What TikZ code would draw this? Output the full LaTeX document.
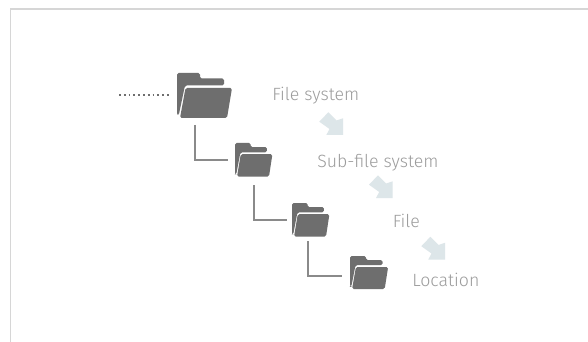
\documentclass[tikz,border=0pt]{standalone}
\usepackage{fontspec}
\setmainfont{Fira Sans Light}
\definecolor{foldergrey}{HTML}{6E6E6E}
\definecolor{linegrey}{HTML}{8A8A8A}
\definecolor{labelgrey}{HTML}{9C9C9C}
\definecolor{framegrey}{HTML}{D6D6D6}
\definecolor{arrowblue}{HTML}{DDE6E9}
\tikzset{
  framestyle/.style={draw=framegrey,line width=1.1pt},
  connector/.style={draw=linegrey,line width=0.8pt},
  dotline/.style={draw=foldergrey,line width=1.2pt,dash pattern=on 1.3pt off 2.3pt},
  label/.style={text=labelgrey,font=\fontsize{13.3}{15}\selectfont,inner sep=0pt,anchor=base west},
  folderback/.style={fill=foldergrey,rounded corners=1.2pt},
  folderfront/.style={fill=foldergrey,rounded corners=1.2pt},
  pics/folder/.style={code={
    \path[folderback] (0,0) -- (23,0) -- (23,5.5) -- (47,5.5) -- (47,12.5) -- (8,12.5) -- (1.8,42) -- (0,42) -- cycle;
    \path[folderfront] (8.5,15) -- (55,15) -- (50,45) -- (3,45) -- cycle;
  }},
  pics/blockarrow/.style={code={
    \path[fill=arrowblue] (-14.7,-22.7) -- (-6.5,-14.5) -- (0,-16.7) -- (0,0) -- (-16.7,0) -- (-13.5,-6) -- (-23.7,-13.3) -- cycle;
  }}
}
\begin{document}
\begin{tikzpicture}[x=0.75pt,y=-0.75pt]
\useasboundingbox (0,0) rectangle (588,342);
\path[fill=white] (0,0) rectangle (588,342);
\draw[framestyle] (10.5,342) -- (10.5,9) -- (588,9);
% folders
\coordinate (fa) at (177,73);
\coordinate (fb) at (235,143);
\coordinate (fc) at (292,203);
\coordinate (fd) at (350,256);
\pic at (fa) {folder};
\begin{scope}[shift={(fb)},x=0.51pt,y=-0.56pt]\pic at (0,0) {folder};\end{scope}
\begin{scope}[shift={(fc)},x=0.51pt,y=-0.56pt]\pic at (0,0) {folder};\end{scope}
\begin{scope}[shift={(fd)},x=0.52pt,y=-0.55pt]\pic at (0,0) {folder};\end{scope}
% connectors
\coordinate (dotstart) at (119,95);
\coordinate (dotend) at (171,95);
\draw[dotline] (dotstart) -- (dotend);
\coordinate (a1) at (195,125); \coordinate (a2) at (228,160);
\coordinate (b1) at (254,185); \coordinate (b2) at (287,220);
\coordinate (c1) at (308,241); \coordinate (c2) at (342,276);
\draw[connector] (a1) |- (a2);
\draw[connector] (b1) |- (b2);
\draw[connector] (c1) |- (c2);
% labels
\node[label] (l1) at (272,101) {File system};
\node[label] (l2) at (317,167) {Sub-file system};
\node[label] (l3) at (392.5,227) {File};
\node[label] (l4) at (412,286) {Location};
% arrows
\pic at (343,135) {blockarrow};
\pic at (392.7,198) {blockarrow};
\pic at (445,259.5) {blockarrow};
\end{tikzpicture}
\end{document}
